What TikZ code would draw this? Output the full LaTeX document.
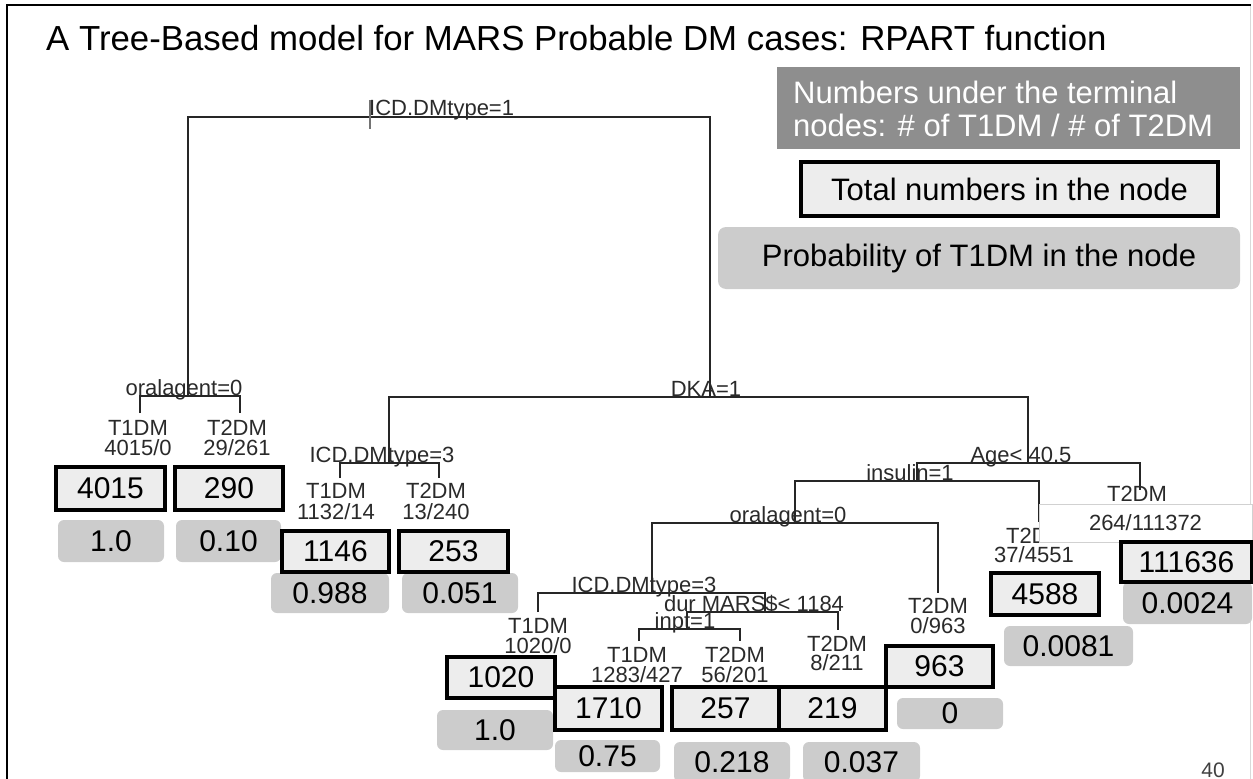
\documentclass[tikz,border=0pt]{standalone}
\usepackage{fontspec}
\setmainfont{Liberation Sans}
\newcommand\setfs[1]{\fontsize{#1pt}{#1pt}\selectfont}
\definecolor{legdark}{HTML}{8E8E8E}
\definecolor{boxfill}{HTML}{EDEDED}
\definecolor{probfill}{HTML}{CCCCCC}
\definecolor{txt}{HTML}{2A2A2A}
\tikzset{
  edge/.style={line width=1.5pt, draw=black!85},
  lbl/.style={anchor=base, inner sep=0pt, font=\setfs{22}, text=txt},
  cntbox/.style={draw=black, line width=3.5pt, fill=boxfill, inner sep=0pt, font=\setfs{30}},
  probbox/.style={fill=probfill, rounded corners=6pt, inner sep=0pt, font=\setfs{30}},
  legtext/.style={anchor=base west, inner sep=0pt, text=white, font=\setfs{31}},
}
\begin{document}
\begin{tikzpicture}[x=1pt,y=-1pt]
\useasboundingbox (0,0) rectangle (1253,779);
% frame
\draw[black!15, line width=1pt] (1250,5) -- (1250,779);
\draw[line width=2.5pt] (7,779) -- (7,5) -- (1251,5);
% title
\node[anchor=base west, inner sep=0pt, font=\setfs{34.8}] (title) at (46,50) {A Tree-Based model for MARS Probable DM cases: RPART function};
% legend
\node[fill=legdark, anchor=north west, minimum width=463pt, minimum height=82pt, inner sep=0pt] (leg1) at (777,67) {};
\node[legtext] (leg1a) at (793,103) {Numbers under the terminal};
\node[legtext] (leg1b) at (793,136) {nodes: \# of T1DM / \# of T2DM};
\node[cntbox, minimum width=417pt, minimum height=54pt, font=\setfs{31}] (leg2) at (1009.5,189) {Total numbers in the node};
\node[probbox, rounded corners=8pt, minimum width=522pt, minimum height=62pt, font=\setfs{31}] (leg3) at (979,258) {Probability of T1DM in the node};
% split points
\coordinate (root) at (370,117);
\coordinate (oral1) at (188,396);
\coordinate (dka) at (710,397);
\coordinate (icd3a) at (389,463);
\coordinate (age) at (1028,463);
\coordinate (ins) at (917,481);
\coordinate (oral2) at (795,523);
\coordinate (icd3b) at (652,593);
\coordinate (dur) at (765,612);
\coordinate (inpt) at (687,629);
% leaf tops
\coordinate (l1t) at (140,413);
\coordinate (l2t) at (240,413);
\coordinate (l3t) at (340,478);
\coordinate (l4t) at (439,478);
\coordinate (l5t) at (538,612);
\coordinate (l6t) at (639,641);
\coordinate (l7t) at (740,641);
\coordinate (l8t) at (838,630);
\coordinate (l9t) at (938,593);
\coordinate (l10t) at (1039,522);
\coordinate (l11t) at (1140,490);
% edges
\draw[edge] (oral1) |- (root) -| (dka);
\draw[edge] (l1t) |- (oral1) -| (l2t);
\draw[edge] (icd3a) |- (dka) -| (age);
\draw[edge] (l3t) |- (icd3a) -| (l4t);
\draw[edge] (ins) |- (age) -| (l11t);
\draw[edge] (oral2) |- (ins) -| (l10t);
\draw[edge] (icd3b) |- (oral2) -| (l9t);
\draw[edge] (l5t) |- (icd3b) -| (dur);
\draw[edge] (inpt) |- (dur) -| (l8t);
\draw[edge] (l6t) |- (inpt) -| (l7t);
\draw[line width=1.2pt, black!55] ([yshift=17pt]root) -- ([yshift=-12pt]root);
% split labels
\node[lbl, anchor=base west] (s1) at (369,115) {ICD.DMtype=1};
\node[lbl] (s2) at (184,395) {oralagent=0};
\node[lbl] (s3) at (706,396) {DKA=1};
\node[lbl] (s4) at (382,462) {ICD.DMtype=3};
\node[lbl] (s5) at (1021,462) {Age< 40.5};
\node[lbl] (s6) at (910,480) {insulin=1};
\node[lbl] (s7) at (788,522) {oralagent=0};
\node[lbl] (s8) at (644,592) {ICD.DMtype=3};
\node[lbl] (s9) at (754,611) {dur MARS\$< 1184};
\node[lbl] (s10) at (685,628) {inpt=1};
% leaf labels
\node[lbl] (l1c) at (138,435) {T1DM};
\node[lbl] (l1n) at (138,455) {4015/0};
\node[lbl] (l2c) at (237,435) {T2DM};
\node[lbl] (l2n) at (237,455) {29/261};
\node[lbl] (l3c) at (336,498) {T1DM};
\node[lbl] (l3n) at (336,519) {1132/14};
\node[lbl] (l4c) at (436,498) {T2DM};
\node[lbl] (l4n) at (436,519) {13/240};
\node[lbl] (l5c) at (538,633) {T1DM};
\node[lbl] (l5n) at (538,653) {1020/0};
\node[lbl] (l6c) at (637,662) {T1DM};
\node[lbl] (l6n) at (637,682) {1283/427};
\node[lbl] (l7c) at (735,662) {T2DM};
\node[lbl] (l7n) at (735,682) {56/201};
\node[lbl] (l8c) at (837,651) {T2DM};
\node[lbl] (l8n) at (837,670) {8/211};
\node[lbl] (l9c) at (938,613) {T2DM};
\node[lbl] (l9n) at (938,633) {0/963};
\node[lbl] (l10c) at (1036,543) {T2DM};
\node[lbl] (l10n) at (1034,562) {37/4551};
\node[lbl] (l11c) at (1137,501) {T2DM};
\node[fill=white, draw=black!18, line width=0.8pt, minimum width=213pt, minimum height=38pt, inner sep=0pt, font=\setfs{22}, text=txt] (l11n) at (1145.5,523) {264/111372};
% probability boxes
\node[probbox, minimum width=106pt, minimum height=42pt] (p1) at (111,541) {1.0};
\node[probbox, minimum width=105pt, minimum height=42pt] (p2) at (228.5,541) {0.10};
\node[probbox, minimum width=118pt, minimum height=40pt] (p3) at (330,593) {0.988};
\node[probbox, minimum width=116pt, minimum height=40pt] (p4) at (460,593) {0.051};
\node[probbox, minimum width=116pt, minimum height=40pt] (p5) at (495,730) {1.0};
\node[probbox, minimum width=105pt, minimum height=32pt] (p6) at (607.5,756) {0.75};
\node[probbox, minimum width=116pt, minimum height=40pt] (p7) at (732,762) {0.218};
\node[probbox, minimum width=117pt, minimum height=40pt] (p8) at (861.5,762) {0.037};
\node[probbox, minimum width=106pt, minimum height=31pt] (p9) at (950,713.5) {0};
\node[probbox, minimum width=129pt, minimum height=40pt] (p10) at (1068.5,646) {0.0081};
\node[probbox, minimum width=129pt, minimum height=42pt] (p11) at (1187.5,603) {0.0024};
% count boxes
\node[cntbox, minimum width=109pt, minimum height=43pt] (n1) at (110.5,488.5) {4015};
\node[cntbox, minimum width=108pt, minimum height=43pt] (n2) at (229,488.5) {290};
\node[cntbox, minimum width=107pt, minimum height=41pt] (n3) at (335.5,551.5) {1146};
\node[cntbox, minimum width=109pt, minimum height=41pt] (n4) at (453.5,551.5) {253};
\node[cntbox, minimum width=108pt, minimum height=41pt] (n5) at (501,677.5) {1020};
\node[cntbox, minimum width=107pt, minimum height=43pt] (n6) at (608.5,708.5) {1710};
\node[cntbox, minimum width=107pt, minimum height=43pt] (n7) at (725.5,708.5) {257};
\node[cntbox, minimum width=107pt, minimum height=43pt] (n8) at (832.5,708.5) {219};
\node[cntbox, minimum width=107pt, minimum height=41pt] (n9) at (939.5,666.5) {963};
\node[cntbox, minimum width=108pt, minimum height=42pt] (n10) at (1045,594) {4588};
\node[cntbox, minimum width=131pt, minimum height=40pt] (n11) at (1186.5,562) {111636};
% page number
\node[anchor=base east, inner sep=0pt, font=\setfs{21}, text=black!75] (pg) at (1225,777) {40};
\end{tikzpicture}
\end{document}
